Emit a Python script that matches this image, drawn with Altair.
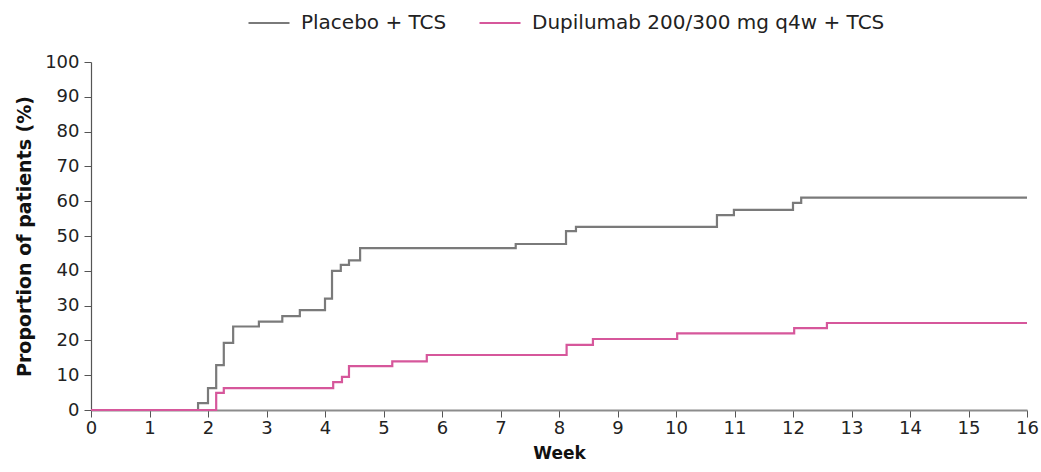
import altair as alt
import pandas as pd

placebo_weeks = [0, 1.83, 2.0, 2.14, 2.27, 2.43, 2.87, 3.27, 3.57, 4.0, 4.12, 4.27, 4.41, 4.6, 7.26, 8.12, 8.29, 10.7, 10.99, 12.0, 12.14, 16]
placebo_vals = [0, 2.0, 6.3, 12.9, 19.3, 24.0, 25.4, 27.0, 28.7, 32.0, 40.0, 41.7, 43.0, 46.5, 47.7, 51.4, 52.6, 56.0, 57.5, 59.5, 61.0, 61.0]

dupi_weeks = [0, 2.14, 2.27, 4.14, 4.29, 4.41, 5.15, 5.74, 8.13, 8.58, 10.02, 12.02, 12.58, 16]
dupi_vals = [0, 4.9, 6.3, 8.0, 9.5, 12.6, 14.0, 15.8, 18.7, 20.4, 22.0, 23.5, 25.0, 25.0]

series_names = ["Placebo + TCS", "Dupilumab 200/300 mg q4w + TCS"]
series_colors = ["#7a7a7a", "#d6579b"]
x_ticks = list(range(0, 17))
y_ticks = list(range(0, 101, 10))

rows = []
for w, v in zip(placebo_weeks, placebo_vals):
    rows.append({"week": w, "value": v, "group": series_names[0]})
for w, v in zip(dupi_weeks, dupi_vals):
    rows.append({"week": w, "value": v, "group": series_names[1]})
df = pd.DataFrame(rows)

FONT = "DejaVu Sans"

chart = alt.Chart(df).mark_line(interpolate="step-after", strokeWidth=2.2).encode(
    x=alt.X("week:Q", title="Week",
            scale=alt.Scale(domain=[0, 16], nice=False, zero=True),
            axis=alt.Axis(values=x_ticks, format="d", grid=False, domainColor="#8c8c8c",
                          domainWidth=2, tickColor="#555555", tickSize=7, labelPadding=2,
                          labelFontSize=18, labelColor="#222222", labelFont=FONT,
                          titleFont=FONT, titleFontSize=17, titleFontWeight="bold",
                          titleColor="#111111", titlePadding=8, labelFlush=False)),
    y=alt.Y("value:Q", title="Proportion of patients (%)",
            scale=alt.Scale(domain=[0, 100], nice=False),
            axis=alt.Axis(values=y_ticks, grid=False, domainColor="#555555",
                          domainWidth=1.2, tickColor="#555555", tickSize=7, labelPadding=5,
                          labelFontSize=18, labelColor="#222222", labelFont=FONT,
                          titleFont=FONT, titleFontSize=19, titleFontWeight="bold",
                          titleColor="#111111", titlePadding=10)),
    color=alt.Color("group:N", sort=series_names,
                    scale=alt.Scale(domain=series_names, range=series_colors),
                    legend=alt.Legend(title=None, orient="none", direction="horizontal",
                                      legendX=156, legendY=-61, symbolType="stroke",
                                      symbolSize=1681, symbolStrokeWidth=2.2,
                                      labelFontSize=20, labelFont=FONT, labelColor="#222222",
                                      labelOffset=10, columnPadding=28, labelLimit=600)),
).properties(
    width=936, height=348,
    autosize=alt.AutoSizeParams(type="none"),
    padding={"left": 91, "top": 62, "right": 14, "bottom": 62},
).configure_view(stroke=None)

chart.save("out.html", embed_options={"renderer": "svg", "actions": False})
